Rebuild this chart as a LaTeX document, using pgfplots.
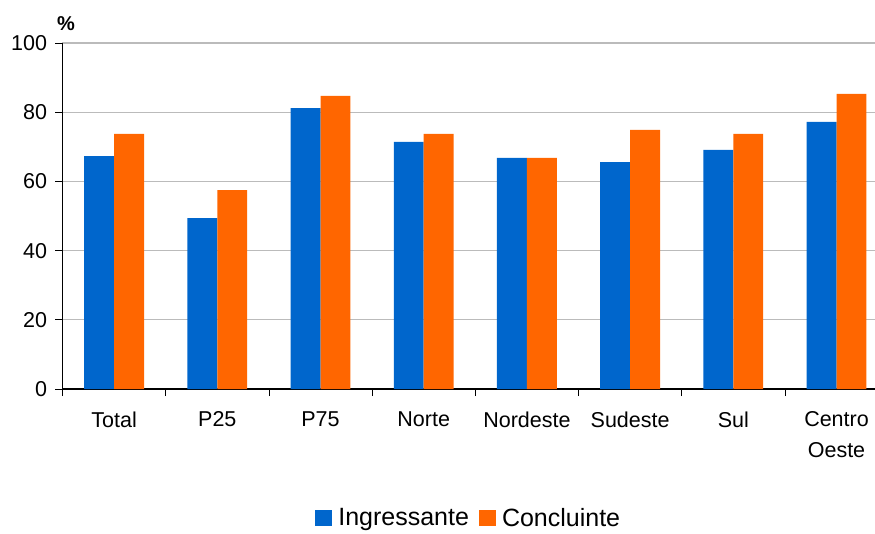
\documentclass[border=0pt]{standalone}
\usepackage{pgfplots}
\pgfplotsset{compat=1.18}
\usepackage{fontspec}
\setmainfont{Liberation Sans}
\definecolor{cblue}{HTML}{0066CC}
\definecolor{corange}{HTML}{FF6600}
\definecolor{cgrid}{HTML}{BBBBBB}
\begin{document}
\begin{tikzpicture}
\begin{axis}[
  at={(0,0)}, anchor=south west,
  scale only axis,
  width=812.5pt, height=346pt,
  xmin=-0.5, xmax=7.373,
  ymin=0, ymax=100,
  ytick={0,20,40,60,80,100},
  xtick={-0.5,0.5,1.5,2.5,3.5,4.5,5.5,6.5},
  xticklabels={Total,P25,P75,Norte,Nordeste,Sudeste,Sul,{Centro\\Oeste}},
  xtick align=outside, ytick align=outside,
  major tick length=7pt,
  tick style={black, line width=0.8pt},
  axis x line*=bottom, axis y line*=left,
  axis line style={black, line width=1.3pt, -},
  ymajorgrids, grid style={cgrid, line width=1.1pt},
  /pgf/number format/assume math mode=true,
  tick label style={font=\fontsize{21.5}{31}\selectfont},
  xticklabel style={align=center, yshift=-12pt, xshift=51.6pt},
  yticklabel style={xshift=-5pt},
  ylabel={\%},
  ylabel style={rotate=-90, at={(rel axis cs:0,1)}, anchor=south west, xshift=-9pt, yshift=9pt, font=\bfseries\fontsize{20}{22}\selectfont},
  ybar, bar width=0.29,
  legend style={at={(0.5,-0.332)}, anchor=north, draw=none, legend columns=2,
    font=\fontsize{25}{28}\selectfont, column sep=4pt, /tikz/every even column/.append style={column sep=8pt}},
  legend image code/.code={\fill[#1] (0pt,-8pt) rectangle (17pt,8pt);},
]
\addplot+[draw=none, fill=cblue, bar shift=-0.145] coordinates {(0,67.3) (1,49.4) (2,81.2) (3,71.4) (4,66.8) (5,65.6) (6,69.1) (7,77.2)};
\addplot+[draw=none, fill=corange, bar shift=0.145] coordinates {(0,73.7) (1,57.5) (2,84.7) (3,73.7) (4,66.8) (5,74.9) (6,73.7) (7,85.3)};
\legend{Ingressante, Concluinte}
\end{axis}
\pgfresetboundingbox
\path (-62.5pt,-144pt) rectangle (812.5pt,389pt);
\end{tikzpicture}
\end{document}
